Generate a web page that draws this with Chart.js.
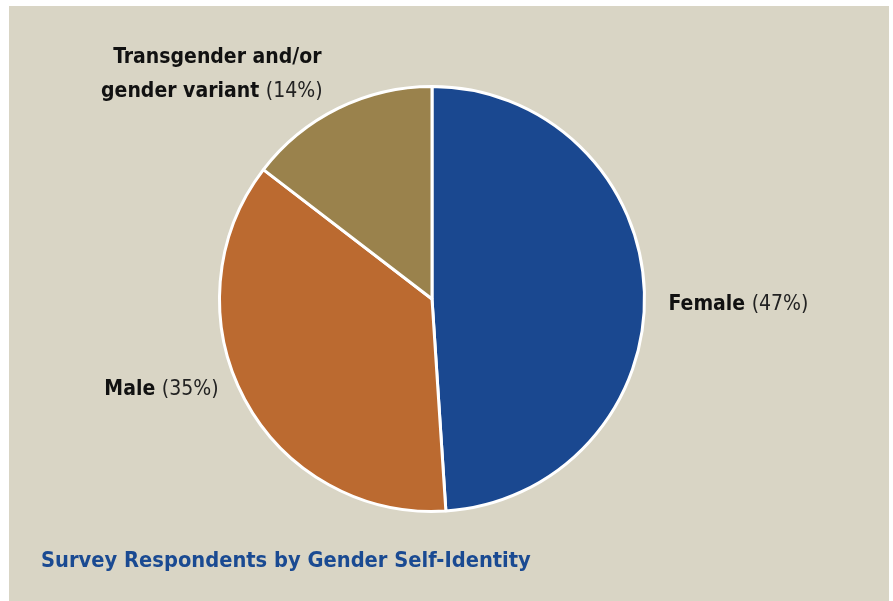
<!DOCTYPE html>
<html>
<head>
<meta charset="utf-8">
<script src="https://cdn.jsdelivr.net/npm/chart.js@4/dist/chart.umd.min.js"></script>
<style>
  html, body { margin: 0; padding: 0; background: #ffffff; }
  #panel { position: absolute; left: 9px; top: 6px; width: 880px; height: 595px; background: #d9d5c5; }
  #myChart { position: absolute; left: 0; top: 0; }
</style>
</head>
<body>
<div id="panel"></div>
<canvas id="myChart" width="893" height="601"></canvas>
<script>
    // donnees
    const categories = ['Female', 'Male', 'Transgender and/or gender variant'];
    const percents = [47, 35, 14];
    const colors = ['#1a4890', '#bb6a30', '#9a824c'];
    const chartTitle = 'Survey Respondents by Gender Self-Identity';

    const FONT = '"DejaVu Sans Condensed", "Liberation Sans Narrow", sans-serif';
    const LABEL_SIZE = 21;

    // dessine un label "gras + (xx%)" en une ligne
    function drawLabel(ctx, boldText, pctText, x, y, align) {
        ctx.font = 'bold ' + LABEL_SIZE + 'px ' + FONT;
        let wb = ctx.measureText(boldText).width;
        ctx.font = LABEL_SIZE + 'px ' + FONT;
        let wp = ctx.measureText(pctText).width;
        let total = wb + wp;
        let start = x;
        if (align === 'right') start = x - total;
        if (align === 'center') start = x - total / 2;
        ctx.textAlign = 'left';
        ctx.textBaseline = 'alphabetic';
        ctx.fillStyle = '#111111';
        ctx.font = 'bold ' + LABEL_SIZE + 'px ' + FONT;
        ctx.fillText(boldText, start, y);
        ctx.font = LABEL_SIZE + 'px ' + FONT;
        ctx.fillStyle = '#222222';
        ctx.fillText(pctText, start + wb, y);
    }

    const labelPlugin = {
        id: 'labelPlugin',
        afterDraw: function(chart) {
            const ctx = chart.ctx;
            const arcs = chart.getDatasetMeta(0).data;
            const cx = arcs[0].x, cy = arcs[0].y, r = arcs[0].outerRadius;
            ctx.save();
            drawLabel(ctx, 'Female ', '(' + percents[0] + '%)', cx + r + 24, cy + 11, 'left');
            drawLabel(ctx, 'Male ', '(' + percents[1] + '%)', cx - r - 1, cy + 96, 'right');
            ctx.font = 'bold ' + LABEL_SIZE + 'px ' + FONT;
            ctx.textAlign = 'right';
            ctx.textBaseline = 'alphabetic';
            ctx.fillStyle = '#111111';
            ctx.fillText('Transgender and/or', cx - r + 102, cy - 236);
            drawLabel(ctx, 'gender variant ', '(' + percents[2] + '%)', cx - r + 103, cy - 202, 'right');
            // titre en bas
            ctx.font = 'bold 21.7px ' + FONT;
            ctx.textAlign = 'left';
            ctx.fillStyle = '#1a4a92';
            ctx.fillText(chartTitle, 41, 567);
            ctx.restore();
        }
    };

    const ctx = document.getElementById('myChart').getContext('2d');
    new Chart(ctx, {
        type: 'pie',
        data: {
            labels: categories,
            datasets: [{
                data: percents,
                backgroundColor: colors,
                borderColor: '#ffffff',
                borderWidth: 3
            }]
        },
        options: {
            responsive: false,
            animation: false,
            layout: { padding: { left: 218, right: 247, top: 85, bottom: 88 } },
            plugins: {
                legend: { display: false },
                tooltip: { enabled: false }
            }
        },
        plugins: [labelPlugin]
    });
</script>
</body>
</html>
